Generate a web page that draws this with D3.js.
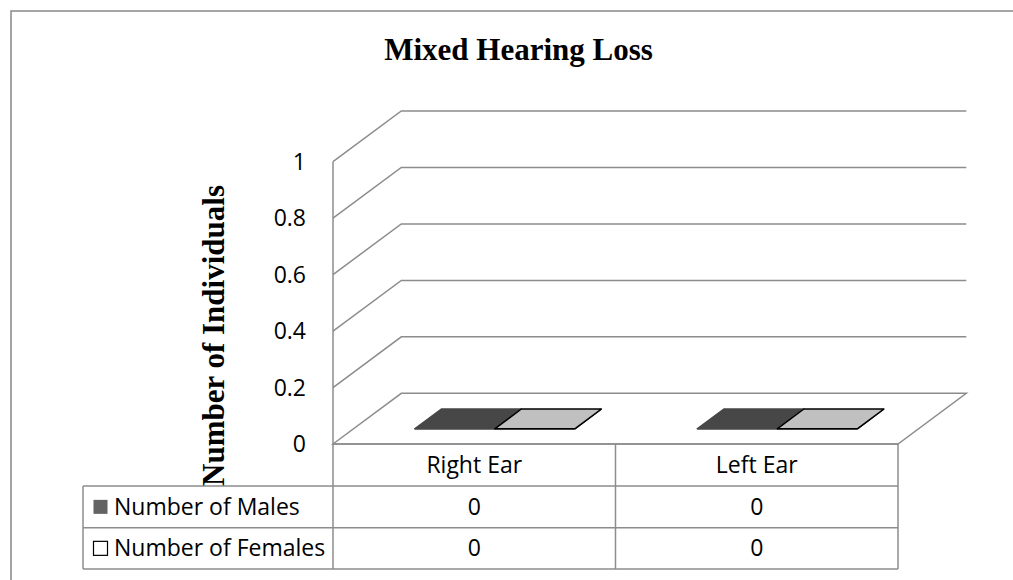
<!DOCTYPE html>
<html>
<head>
<meta charset="utf-8">
<script src="https://cdn.jsdelivr.net/npm/d3@7"></script>
<style>
  html, body { margin: 0; padding: 0; background: #fff; }
  svg { display: block; }
</style>
</head>
<body>
<svg id="chart" width="1013" height="580"></svg>
<script>
// Data
const categories = ["Right Ear", "Left Ear"];
const seriesNames = ["Number of Males", "Number of Females"];
const males = [0, 0];
const females = [0, 0];
const yTicks = [0, 0.2, 0.4, 0.6, 0.8, 1];

const seriesValues = [males, females];
const barFill = ["#474747", "#c0c0c0"];
const barStroke = ["#474747", "#000000"];
const keyFill = ["#636363", "#ffffff"];
const keyStroke = ["none", "#000000"];

const svg = d3.select("#chart");
const W = 1013, H = 580;
const grid = "#8c8c8c";
const bodyFont = "'Open Sans', 'Noto Sans', sans-serif";
const bodySize = 23;
const serif = "'Liberation Serif', 'DejaVu Serif', serif";

// Outer chart border
svg.append("path")
  .attr("d", `M11,${H} V11 H${W}`)
  .attr("fill", "none").attr("stroke", "#888").attr("stroke-width", 1.5);

// Plot geometry (front plane + depth vector for the 3D look)
const x0 = 333, x1 = 898;
const depth = { dx: 68.3, dy: -50.7 };
const y = d3.scaleLinear().domain([0, 1]).range([444, 161.7]);
const x = d3.scaleBand().domain(categories).range([x0, x1]).paddingInner(0).paddingOuter(0);
const inner = d3.scaleBand().domain(d3.range(seriesNames.length))
  .range([0, x.bandwidth()]).paddingOuter(0.765).paddingInner(0);

const P = (px, py, z) => [px + depth.dx * z, py + depth.dy * z];
const line = d3.line();

// Floor
const floorY = y(0);
svg.append("path")
  .attr("d", line([P(x0, floorY, 0), P(x0, floorY, 1), P(x1, floorY, 1), P(x1, floorY, 0)]) + "Z")
  .attr("fill", "#fff").attr("stroke", grid).attr("stroke-width", 1.5);

// Left wall vertical edge
svg.append("line")
  .attr("x1", x0).attr("x2", x0).attr("y1", y(1)).attr("y2", floorY)
  .attr("stroke", grid).attr("stroke-width", 1.5);

// Gridlines: diagonal on side wall + horizontal on back wall
yTicks.filter(t => t > 0).forEach(t => {
  const yy = y(t);
  svg.append("path")
    .attr("d", line([P(x0, yy, 0), P(x0, yy, 1), P(x1, yy, 1)]))
    .attr("fill", "none").attr("stroke", grid).attr("stroke-width", 1.5);
});

// Tick labels
svg.append("g").selectAll("text").data(yTicks).join("text")
  .attr("x", 306).attr("y", d => y(d))
  .attr("dy", "0.35em")
  .attr("text-anchor", "end")
  .attr("font-family", bodyFont).attr("font-size", bodySize).attr("fill", "#000")
  .text(d => d3.format("~g")(d));

// Bars (3D boxes); a zero value leaves just the top face on the floor
const zFront = 0.3, zBack = 0.69;
categories.forEach((c, ci) => {
  seriesValues.forEach((vals, si) => {
    const bx = x(c) + inner(si);
    const bw = inner.bandwidth();
    const yt = y(vals[ci]);
    const yb = y(0);
    const g = svg.append("g");
    // front face
    g.append("path")
      .attr("d", line([P(bx, yb, zFront), P(bx, yt, zFront), P(bx + bw, yt, zFront), P(bx + bw, yb, zFront)]) + "Z")
      .attr("fill", barFill[si]).attr("stroke", barStroke[si]).attr("stroke-width", 1.5);
    // side face
    g.append("path")
      .attr("d", line([P(bx + bw, yb, zFront), P(bx + bw, yt, zFront), P(bx + bw, yt, zBack), P(bx + bw, yb, zBack)]) + "Z")
      .attr("fill", barFill[si]).attr("stroke", barStroke[si]).attr("stroke-width", 1.5);
    // top face
    g.append("path")
      .attr("d", line([P(bx, yt, zFront), P(bx, yt, zBack), P(bx + bw, yt, zBack), P(bx + bw, yt, zFront)]) + "Z")
      .attr("fill", barFill[si]).attr("stroke", barStroke[si]).attr("stroke-width", 1.5)
      .attr("stroke-linejoin", "round");
  });
});

// Data table under the plot
const tLeft = 83;
const rowTop = [444, 486, 527.7, 569];
const tbl = svg.append("g").attr("stroke", grid).attr("stroke-width", 1.5).attr("fill", "none");
// horizontal lines
tbl.append("line").attr("x1", x0).attr("x2", x1).attr("y1", rowTop[0]).attr("y2", rowTop[0]);
rowTop.slice(1).forEach(ry => {
  tbl.append("line").attr("x1", tLeft).attr("x2", x1).attr("y1", ry).attr("y2", ry);
});
// vertical lines
tbl.append("line").attr("x1", tLeft).attr("x2", tLeft).attr("y1", rowTop[1]).attr("y2", rowTop[3]);
[x0, ...categories.map(c => x(c) + x.bandwidth())].forEach(vx => {
  tbl.append("line").attr("x1", vx).attr("x2", vx).attr("y1", rowTop[0]).attr("y2", rowTop[3]);
});

// Category header
svg.append("g").selectAll("text").data(categories).join("text")
  .attr("x", d => x(d) + x.bandwidth() / 2)
  .attr("y", (rowTop[0] + rowTop[1]) / 2).attr("dy", "0.35em")
  .attr("text-anchor", "middle")
  .attr("font-family", bodyFont).attr("font-size", bodySize).attr("fill", "#000")
  .text(d => d);

// Series rows: legend key, name, values
seriesNames.forEach((name, si) => {
  const cy = (rowTop[si + 1] + rowTop[si + 2]) / 2;
  svg.append("rect")
    .attr("x", 93.5).attr("y", cy - 7).attr("width", 14).attr("height", 14)
    .attr("fill", keyFill[si]).attr("stroke", keyStroke[si]).attr("stroke-width", 1.2);
  svg.append("text")
    .attr("x", 114).attr("y", cy).attr("dy", "0.35em")
    .attr("font-family", bodyFont).attr("font-size", bodySize).attr("fill", "#000")
    .text(name);
  svg.append("g").selectAll("text").data(categories).join("text")
    .attr("x", d => x(d) + x.bandwidth() / 2)
    .attr("y", cy).attr("dy", "0.35em")
    .attr("text-anchor", "middle")
    .attr("font-family", bodyFont).attr("font-size", bodySize).attr("fill", "#000")
    .text((d, ci) => seriesValues[si][ci]);
});

// Title
svg.append("text")
  .attr("x", 518.5).attr("y", 60)
  .attr("text-anchor", "middle")
  .attr("font-family", serif).attr("font-weight", "bold").attr("font-size", 31)
  .attr("fill", "#000")
  .text("Mixed Hearing Loss");

// Y axis title
svg.append("text")
  .attr("transform", "translate(224,335.5) rotate(-90)")
  .attr("text-anchor", "middle")
  .attr("font-family", serif).attr("font-weight", "bold").attr("font-size", 31)
  .attr("fill", "#000")
  .text("Number of Individuals");
</script>
</body>
</html>
